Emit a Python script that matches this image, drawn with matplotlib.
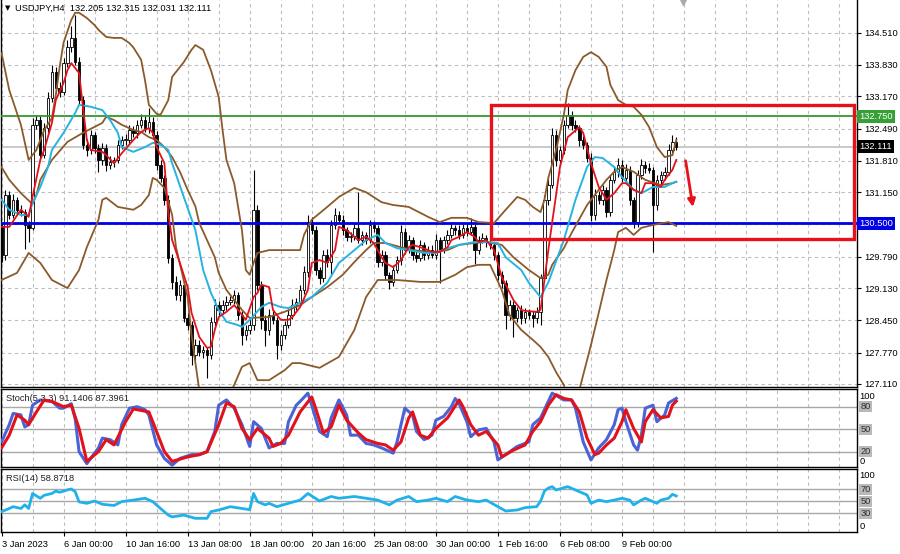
import matplotlib
matplotlib.use("Agg")
import matplotlib.pyplot as plt
from matplotlib.patches import Rectangle, FancyArrowPatch
import numpy as np

plt.rcParams['font.family'] = ['Liberation Sans', 'DejaVu Sans']

# ---------------- data ----------------
symbol_title = "USDJPY,H4"
last_bar_ohlc = ["132.205", "132.315", "132.031", "132.111"]

first_open = 130.42
closes = [
    129.83, 131.09, 130.67, 130.99, 130.78, 130.73, 130.46, 130.40, 132.57, 132.67,
    131.93, 132.50, 133.14, 133.68, 133.35, 133.26, 133.87, 134.21, 134.40, 133.89,
    133.09, 132.15, 132.04, 132.36, 132.08, 131.83, 132.08, 131.72, 131.79, 131.83,
    132.15, 132.25, 132.25, 132.46, 132.40, 132.57, 132.67, 132.50, 132.63, 132.36,
    131.72, 131.45, 130.99, 129.76, 129.26, 128.98, 129.20, 128.50, 128.35, 127.72,
    127.93, 127.78, 127.83, 127.72, 128.42, 128.77, 128.67, 128.77, 128.84, 128.88,
    128.98, 128.56, 128.14, 128.25, 128.35, 130.78, 129.20, 128.46, 128.25, 128.56,
    128.46, 127.93, 128.14, 128.35, 128.56, 128.77, 128.84, 129.09, 129.47, 130.52,
    130.35, 129.51, 129.34, 129.83, 129.68, 130.46, 130.67, 130.56, 130.35, 130.21,
    130.23, 130.40, 130.14, 130.25, 130.14, 130.46, 130.40, 129.68, 129.83, 129.41,
    129.26, 129.51, 129.72, 130.31, 129.93, 130.14, 129.83, 129.76, 130.04, 129.83,
    129.93, 129.83, 130.14, 129.93, 130.14, 130.25, 130.40, 130.35, 130.25, 130.40,
    130.31, 130.42, 129.93, 130.14, 130.19, 130.10, 130.04, 129.83, 129.41, 129.24,
    128.56, 128.77, 128.50, 128.67, 128.50, 128.63, 128.56, 128.50, 128.63, 129.34,
    130.99, 131.30, 132.36, 131.83, 132.04, 132.57, 132.78, 132.57, 132.50, 132.25,
    132.15, 131.87, 130.67, 131.09, 130.99, 131.20, 130.73, 131.41, 131.58, 131.72,
    131.45, 131.62, 130.99, 130.52, 131.51, 131.72, 131.66, 131.62, 130.88, 131.41,
    131.51, 131.58, 132.04, 132.205, 132.111]
upper_wicks = [
    0.05, 0.10, 0.08, 0.12, 0.06, 0.10, 0.06, 0.08, 0.15, 0.10,
    0.08, 0.10, 0.12, 0.15, 0.10, 0.12, 0.10, 0.15, 0.25, 0.48,
    0.10, 0.08, 0.12, 0.10, 0.06, 0.08, 0.10, 0.08, 0.12, 0.06,
    0.10, 0.08, 0.12, 0.10, 0.08, 0.10, 0.12, 0.08, 0.30, 0.10,
    0.08, 0.10, 0.06, 0.10, 0.08, 0.12, 0.10, 0.08, 0.10, 0.08,
    0.12, 0.10, 0.08, 0.06, 0.10, 0.12, 0.08, 0.10, 0.12, 0.08,
    0.10, 0.06, 0.08, 0.10, 0.12, 0.84, 0.10, 0.08, 0.10, 0.12,
    0.08, 0.06, 0.10, 0.08, 0.10, 0.12, 0.08, 0.10, 0.12, 0.15,
    0.10, 0.08, 0.06, 0.10, 0.12, 0.10, 0.15, 0.08, 0.10, 0.06,
    0.08, 0.10, 0.75, 0.08, 0.06, 0.10, 0.08, 0.06, 0.10, 0.08,
    0.06, 0.10, 0.08, 0.15, 0.08, 0.10, 0.06, 0.08, 0.10, 0.06,
    0.08, 0.10, 0.12, 0.06, 0.08, 0.10, 0.08, 0.06, 0.10, 0.08,
    0.10, 0.19, 0.06, 0.08, 0.10, 0.06, 0.08, 0.06, 0.05, 0.08,
    0.06, 0.10, 0.08, 0.06, 0.10, 0.08, 0.06, 0.08, 0.10, 0.08,
    0.10, 0.12, 0.14, 0.10, 0.08, 0.10, 0.25, 0.08, 0.10, 0.06,
    0.08, 0.06, 0.10, 0.12, 0.08, 0.10, 0.06, 0.10, 0.12, 0.15,
    0.10, 0.12, 0.08, 0.06, 0.10, 0.12, 0.08, 0.10, 0.06, 0.10,
    0.08, 0.10, 0.12, 0.15, 0.105]
lower_wicks = [
    0.15, 0.10, 0.08, 0.06, 0.10, 0.08, 0.50, 0.30, 0.05, 0.08,
    0.10, 0.06, 0.08, 0.10, 0.12, 0.10, 0.06, 0.08, 0.10, 0.06,
    0.08, 0.10, 0.12, 0.08, 0.10, 0.25, 0.10, 0.12, 0.08, 0.10,
    0.06, 0.08, 0.10, 0.06, 0.08, 0.10, 0.06, 0.08, 0.10, 0.08,
    0.10, 0.08, 0.12, 0.10, 0.15, 0.10, 0.12, 0.08, 0.10, 0.20,
    0.10, 0.08, 0.12, 0.48, 0.08, 0.10, 0.12, 0.08, 0.10, 0.06,
    0.08, 0.10, 0.20, 0.10, 0.08, 0.10, 0.12, 0.20, 0.35, 0.10,
    0.08, 0.30, 0.10, 0.08, 0.06, 0.08, 0.10, 0.06, 0.08, 0.10,
    0.08, 0.10, 0.12, 0.08, 0.10, 0.30, 0.08, 0.06, 0.10, 0.08,
    0.10, 0.08, 0.06, 0.10, 0.08, 0.06, 0.08, 0.10, 0.08, 0.12,
    0.15, 0.08, 0.06, 0.10, 0.08, 0.06, 0.10, 0.08, 0.06, 0.10,
    0.08, 0.06, 0.08, 0.69, 0.06, 0.08, 0.06, 0.10, 0.08, 0.06,
    0.08, 0.06, 0.30, 0.08, 0.06, 0.10, 0.08, 0.10, 0.12, 0.10,
    0.30, 0.10, 0.40, 0.08, 0.12, 0.10, 0.08, 0.20, 0.10, 0.28,
    0.08, 0.10, 0.06, 0.12, 0.10, 0.08, 0.06, 0.10, 0.08, 0.12,
    0.10, 0.08, 0.12, 0.10, 0.08, 0.12, 0.10, 0.08, 0.06, 0.10,
    0.08, 0.10, 0.12, 0.12, 0.10, 0.08, 0.10, 0.06, 1.00, 0.10,
    0.08, 0.10, 0.06, 0.10, 0.08]

# Bollinger band lines (bar index, price)
bb_upper_bars = [0, 2, 5, 7, 9, 11, 13, 14, 15, 16, 18, 19, 20, 22, 24, 25, 27, 29, 31, 33,
                 34, 36, 37, 38, 40, 41, 43, 44, 47, 49, 50, 52, 54, 56, 57, 58, 60, 62, 63, 64,
                 65, 66, 69, 73, 77, 78, 80, 84, 87, 91, 94, 98, 101, 105, 110, 113, 116, 120, 123, 127,
                 130, 133, 135, 137, 139, 140, 141, 143, 145, 146, 148, 150, 152, 154, 156, 157, 159, 161, 163, 165,
                 167, 169, 171, 173, 174]
bb_upper = [134.08, 133.30, 132.57, 131.83, 132.04, 132.46, 132.71, 133.20, 133.79, 134.30,
            134.78, 134.93, 134.93, 134.82, 134.67, 134.57, 134.42, 134.40, 134.40, 134.29,
            134.20, 133.94, 133.51, 132.99, 132.80, 132.78, 133.09, 133.58, 133.89, 134.15,
            134.25, 134.15, 133.72, 133.16, 132.46, 131.83, 131.34, 130.35, 129.51, 129.41,
            129.66, 129.87, 129.93, 129.93, 129.93, 130.25, 130.57, 130.84, 131.05, 131.24,
            131.15, 130.94, 130.88, 130.84, 130.63, 130.52, 130.61, 130.61, 130.52, 130.50,
            130.78, 131.05, 130.99, 130.84, 130.73, 130.99, 131.45, 132.04, 132.78, 133.30,
            133.72, 134.00, 134.10, 134.00, 133.79, 133.41, 133.09, 132.99, 132.95, 132.78,
            132.52, 132.10, 131.89, 131.93, 132.25]
bb_mid_bars = [0, 2, 5, 8, 9, 10, 13, 17, 21, 26, 27, 29, 31, 34, 36, 38, 40, 42, 44, 46,
               48, 50, 51, 53, 55, 56, 58, 60, 62, 64, 69, 73, 77, 80, 84, 88, 91, 94, 96, 99,
               103, 106, 111, 115, 118, 122, 125, 129, 132, 136, 139, 141, 142, 145, 147, 151, 154, 156, 158, 160,
               163, 166, 170, 173, 174]
bb_mid = [131.68, 131.41, 131.13, 130.90, 131.09, 131.41, 131.83, 132.21, 132.40, 132.61,
          132.74, 132.67, 132.57, 132.46, 132.42, 132.31, 132.25, 132.10, 131.89, 131.58,
          131.20, 130.85, 130.50, 130.14, 129.78, 129.45, 129.09, 128.88, 128.67, 128.50,
          128.52, 128.63, 128.77, 128.94, 129.15, 129.41, 129.68, 129.93, 130.08, 130.08,
          129.99, 129.93, 129.89, 129.93, 130.04, 130.08, 130.10, 130.04, 129.78, 129.51,
          129.34, 129.41, 129.62, 129.97, 130.29, 130.88, 131.20, 131.41, 131.58, 131.68,
          131.58, 131.41, 131.30, 131.34, 131.37]
bb_lower_bars = [0, 4, 7, 10, 13, 17, 20, 22, 25, 26, 27, 30, 34, 36, 38, 39, 40, 42, 44, 45,
                 48, 49, 50, 51, 53, 55, 58, 60, 62, 64, 66, 69, 73, 75, 77, 82, 87, 91, 94, 97,
                 102, 108, 113, 117, 120, 123, 126, 129, 131, 134, 137, 139, 141, 143, 145, 146, 148, 149, 150, 152,
                 154, 156, 158, 159, 161, 163, 165, 168, 172, 174]
bb_lower = [129.30, 129.45, 129.87, 129.66, 129.30, 129.13, 129.51, 129.99, 130.57, 130.99,
            131.03, 130.84, 130.78, 130.88, 131.09, 131.45, 131.41, 131.24, 130.67, 129.99,
            128.94, 128.14, 127.55, 126.98, 126.67, 126.56, 126.77, 127.09, 127.47, 127.55,
            127.19, 127.19, 127.40, 127.55, 127.55, 127.45, 127.68, 128.25, 128.94, 129.30,
            129.30, 129.26, 129.26, 129.41, 129.57, 129.62, 129.62, 129.09, 128.56, 128.25,
            128.04, 127.89, 127.68, 127.36, 127.09, 126.77, 126.67, 126.98, 127.30, 127.93,
            128.61, 129.30, 129.93, 130.31, 130.40, 130.25, 130.40, 130.46, 130.52, 130.44]

# moving averages (bar index, price)
ma_fast_bars = [0, 2, 5, 6, 7, 8, 10, 11, 13, 14, 16, 17, 18, 20, 21, 22, 23, 26, 27, 29,
                31, 34, 36, 38, 39, 40, 42, 43, 44, 46, 48, 49, 51, 53, 54, 55, 56, 58, 60, 61,
                63, 65, 66, 67, 69, 70, 72, 74, 75, 77, 79, 80, 82, 84, 86, 87, 89, 91, 92, 94,
                96, 98, 99, 101, 103, 105, 106, 108, 110, 111, 113, 115, 116, 118, 120, 122, 123, 125, 127, 129,
                132, 134, 135, 138, 139, 140, 141, 142, 143, 144, 146, 149, 150, 152, 154, 156, 158, 160, 161, 163,
                165, 166, 168, 170, 171, 173, 174]
ma_fast = [130.42, 130.42, 130.78, 130.71, 130.63, 131.05, 131.83, 132.04, 132.61, 133.09,
           133.45, 133.72, 133.87, 133.66, 132.95, 132.25, 132.04, 132.00, 131.93, 131.76,
           131.97, 132.25, 132.42, 132.50, 132.40, 132.10, 131.76, 130.71, 130.14, 129.66,
           129.15, 128.61, 128.10, 127.87, 127.89, 128.25, 128.52, 128.63, 128.77, 128.67,
           128.46, 128.94, 129.03, 129.20, 129.15, 128.67, 128.46, 128.46, 128.52, 128.73,
           129.09, 129.66, 129.72, 129.66, 129.93, 130.42, 130.35, 130.21, 130.14, 130.21,
           130.08, 129.78, 129.66, 129.57, 129.72, 129.99, 130.04, 129.99, 129.93, 129.89,
           129.89, 129.99, 130.14, 130.21, 130.31, 130.21, 130.10, 130.14, 129.93, 129.36,
           128.88, 128.67, 128.65, 128.63, 128.67, 129.30, 129.93, 130.52, 131.09, 131.68,
           132.31, 132.52, 132.40, 131.76, 131.26, 130.99, 131.13, 131.34, 131.34, 131.20,
           131.13, 131.34, 131.34, 131.26, 131.41, 131.62, 131.83]
ma_slow_bars = [0, 2, 5, 7, 8, 10, 12, 13, 16, 19, 20, 23, 26, 28, 30, 31, 34, 37, 39, 41,
                43, 44, 47, 50, 52, 54, 56, 58, 61, 62, 64, 67, 69, 72, 74, 77, 80, 84, 87, 91,
                94, 97, 99, 102, 105, 109, 112, 115, 118, 122, 125, 128, 130, 134, 136, 139, 141, 145, 148, 151,
                153, 155, 158, 160, 163, 165, 168, 171, 173, 174]
ma_slow = [130.99, 130.78, 130.67, 130.67, 130.92, 131.26, 131.68, 132.04, 132.40, 132.82,
           132.99, 132.95, 132.88, 132.67, 132.40, 132.10, 132.00, 132.10, 132.19, 132.15,
           132.04, 131.76, 131.05, 130.35, 129.51, 129.03, 128.67, 128.42, 128.35, 128.31,
           128.46, 128.73, 128.82, 128.73, 128.71, 128.82, 128.94, 129.24, 129.66, 129.93,
           130.14, 130.25, 130.08, 129.97, 129.93, 129.87, 129.87, 129.97, 130.04, 130.10,
           130.10, 130.08, 129.78, 129.51, 129.24, 128.94, 129.25, 130.14, 130.99, 131.68,
           131.89, 131.87, 131.68, 131.47, 131.20, 131.13, 131.26, 131.26, 131.34, 131.37]

# Stochastic (5,3,3)
stoch_k_bars = [0, 2, 3, 5, 6, 7, 8, 10, 13, 15, 16, 18, 19, 20, 22, 23, 25, 26, 28, 30,
                31, 33, 35, 37, 38, 40, 42, 44, 46, 49, 51, 53, 55, 56, 58, 60, 62, 64, 65, 67,
                69, 71, 73, 74, 76, 77, 79, 80, 82, 84, 85, 87, 89, 90, 92, 94, 96, 98, 101, 102,
                104, 106, 107, 109, 111, 112, 114, 116, 117, 118, 120, 121, 123, 125, 127, 128, 130, 133, 136, 137,
                139, 141, 142, 145, 147, 148, 150, 152, 154, 156, 158, 159, 160, 161, 163, 164, 165, 166, 168, 169,
                171, 172, 174]
stoch_k = [33, 56, 71, 69, 53, 56, 82, 89, 87, 78, 78, 84, 64, 20, 4, 11, 25, 38, 36, 29,
           56, 78, 80, 76, 69, 29, 11, 2, 11, 16, 16, 20, 47, 82, 89, 78, 56, 27, 60, 51,
           25, 31, 31, 60, 82, 87, 98, 82, 47, 40, 65, 89, 69, 42, 42, 31, 29, 25, 18, 33,
           78, 69, 47, 36, 42, 62, 67, 80, 91, 84, 60, 40, 49, 51, 33, 9, 16, 27, 33, 56,
           65, 87, 98, 89, 89, 78, 33, 9, 25, 36, 56, 76, 78, 60, 29, 22, 42, 78, 82, 60,
           69, 85, 91.14]
stoch_d_bars = [0, 2, 4, 6, 7, 9, 11, 13, 16, 18, 20, 22, 25, 27, 29, 32, 34, 38, 39, 42,
                44, 48, 51, 53, 56, 58, 60, 62, 64, 66, 69, 70, 72, 74, 77, 80, 81, 83, 85, 87,
                89, 92, 94, 97, 99, 101, 103, 105, 106, 108, 110, 112, 115, 118, 119, 121, 123, 125, 128, 129,
                132, 135, 137, 139, 141, 143, 145, 147, 149, 151, 153, 154, 156, 158, 160, 161, 163, 165, 166, 168,
                170, 172, 173, 174]
stoch_d = [25, 42, 69, 62, 56, 73, 89, 87, 80, 82, 51, 7, 20, 36, 29, 60, 77, 73, 60, 20,
           7, 13, 16, 20, 56, 85, 80, 51, 36, 51, 38, 27, 31, 42, 73, 93, 78, 45, 53, 82,
           62, 45, 36, 31, 29, 22, 33, 65, 73, 42, 38, 51, 65, 89, 80, 56, 42, 47, 29, 13,
           22, 29, 47, 60, 82, 96, 91, 89, 73, 38, 16, 18, 29, 38, 60, 76, 51, 33, 60, 76,
           65, 67, 82, 87.40]

# RSI(14)
rsi_bars = [0, 2, 3, 5, 6, 7, 8, 10, 11, 13, 14, 15, 17, 18, 19, 20, 22, 24, 26, 29,
            31, 34, 37, 39, 41, 43, 44, 47, 50, 53, 54, 56, 59, 62, 64, 65, 66, 68, 69, 71,
            74, 77, 79, 82, 85, 87, 91, 94, 97, 100, 102, 105, 107, 110, 112, 115, 117, 120, 123, 125,
            128, 130, 133, 135, 138, 139, 140, 141, 142, 143, 146, 148, 151, 152, 154, 156, 158, 160, 162, 163,
            165, 166, 169, 170, 172, 173, 174]
rsi = [32.7, 38, 41, 38, 44, 38, 63, 55, 60, 63, 67, 65, 69, 70.5, 66, 49, 46.6, 50.5, 45, 43,
       49.4, 52, 55, 49.4, 38, 27, 24, 27, 21.6, 21.6, 32.7, 35.5, 41, 38, 36, 63, 49.4, 44, 46.6, 41,
       46.6, 52, 63, 50.5, 58, 55, 58, 55, 52, 44, 52, 58, 49.4, 52, 55, 49.4, 58, 52, 49.4, 52,
       41, 33.8, 35.5, 39.4, 41, 50, 67, 72, 74.4, 68.8, 74.4, 68.8, 60.5, 46.6, 52, 49.4, 52, 55, 52, 44,
       52, 55, 46.6, 52, 55, 61.6, 58.87]

x_label_bars = [0, 16, 32, 48, 64, 80, 96, 112, 128, 144, 160]
x_labels = ["3 Jan 2023", "6 Jan 00:00", "10 Jan 16:00", "13 Jan 08:00", "18 Jan 00:00",
            "20 Jan 16:00", "25 Jan 08:00", "30 Jan 00:00", "1 Feb 16:00", "6 Feb 08:00", "9 Feb 00:00"]
price_ticks = [134.51, 133.83, 133.17, 132.49, 131.81, 131.15, 130.47, 129.79,
               129.13, 128.45, 127.77, 127.11]
hidden_tick_labels = [130.47]   # covered by the 130.500 level label in the reference

resistance_level = 132.75
support_level = 130.50
bid_price = 132.111
box_bars = (126.3, 219.8)
box_prices = (130.17, 132.99)
arrow_start = (176.3, 131.87)
arrow_end = (178.4, 130.78)
shift_marker_bar = 175.8

stoch_values_text = "Stoch(5,3,3) 91.1406 87.3961"
rsi_values_text = "RSI(14) 58.8718"
stoch_levels = [80, 50, 20]
rsi_levels = [70, 50, 30]

# ---------------- styles ----------------
FS = 6.7
GRID = dict(color='#bdbdbd', lw=0.8, ls=(0, (3, 3)), zorder=0.5)
BROWN = '#8b5a2b'
RED = '#e2121b'
CYAN = '#27b3e2'
X_MIN, X_MAX = -0.26, 220.6

fig = plt.figure(figsize=(9, 5.54), dpi=100)
W, H = 900.0, 554.0
ax = fig.add_axes([0.5 / W, (H - 387) / H, 856.5 / W, 387 / H])
ax_st = fig.add_axes([0.5 / W, (H - 466.5) / H, 856.5 / W, 77.2 / H])
ax_rsi = fig.add_axes([0.5 / W, (H - 531.7) / H, 856.5 / W, 62.4 / H])

for a in (ax, ax_st, ax_rsi):
    a.set_xlim(X_MIN, X_MAX)
    for b in range(0, 221, 8):
        a.axvline(b, **GRID)
    for s in a.spines.values():
        s.set_color('black')
        s.set_linewidth(1.0)
    a.set_xticks([])

# ---------------- main price panel ----------------
ax.set_ylim(127.046, 135.199)
ax.spines['top'].set_visible(False)
for p in price_ticks:
    ax.axhline(p, **GRID)

opens = [first_open] + closes[:-1]
bars = np.arange(len(closes))
o = np.array(opens)
c = np.array(closes)
hi = np.maximum(o, c) + np.array(upper_wicks)
lo = np.minimum(o, c) - np.array(lower_wicks)
ax.vlines(bars, lo, hi, color='black', lw=0.8, zorder=2)
bull = c >= o
body = np.maximum(np.abs(c - o), 0.012)
ax.bar(bars[bull], body[bull], bottom=o[bull], width=0.62, facecolor='white',
       edgecolor='black', lw=0.6, zorder=2.1)
ax.bar(bars[~bull], body[~bull], bottom=c[~bull], width=0.62, facecolor='black',
       edgecolor='black', lw=0.6, zorder=2.1)

ax.axhline(bid_price, color='#c9c9c9', lw=1.4, zorder=1)
ax.axhline(resistance_level, color='#2f9a2f', lw=1.3, zorder=3)
ax.axhline(support_level, color='#0000e6', lw=2.0, zorder=3)

for xs, ys in ((bb_upper_bars, bb_upper), (bb_mid_bars, bb_mid), (bb_lower_bars, bb_lower)):
    ax.plot(xs, ys, color=BROWN, lw=1.3, zorder=3, solid_joinstyle='round')
ax.plot(ma_slow_bars, ma_slow, color=CYAN, lw=1.4, zorder=3.2, solid_joinstyle='round')
ax.plot(ma_fast_bars, ma_fast, color=RED, lw=1.3, zorder=3.3, solid_joinstyle='round')

ax.add_patch(Rectangle((box_bars[0], box_prices[0]), box_bars[1] - box_bars[0],
                       box_prices[1] - box_prices[0], fill=False, edgecolor='#e8101a',
                       lw=2.4, zorder=4, joinstyle='miter'))
ax.add_patch(FancyArrowPatch(arrow_start, arrow_end, arrowstyle='-|>', mutation_scale=11,
                             color='#e8101a', lw=2.0, zorder=4))
ax.plot([shift_marker_bar], [135.17], marker='v', ms=5.5, color='#a9a9a9', zorder=5, clip_on=False)

ax.yaxis.tick_right()
ax.set_yticks(price_ticks)
ax.set_yticklabels(["" if p in hidden_tick_labels else f"{p:.3f}" for p in price_ticks])
ax.tick_params(axis='y', right=True, left=False, length=3, width=0.8, pad=2,
               labelsize=FS, colors='black')

yt = ax.get_yaxis_transform()
for val, fc in ((resistance_level, '#36a036'), (bid_price, 'black'), (support_level, '#0000e6')):
    ax.text(1.0022, val, f"{val:.3f}", transform=yt, ha='left', va='center', fontsize=FS,
            color='white', zorder=6, clip_on=False,
            bbox=dict(boxstyle='square,pad=0.22', fc=fc, ec='none'))

fig.text(4.5 / W, 1 - 8.5 / H, "\u25bc", fontsize=5, family='DejaVu Sans', va='center', ha='left')
fig.text(15 / W, 1 - 8 / H, f"{symbol_title}  " + " ".join(last_bar_ohlc),
         fontsize=FS, va='center', ha='left')

# ---------------- stochastic ----------------
ax_st.set_ylim(0.2, 103.2)
ax_st.set_yticks([])
for lv in stoch_levels:
    ax_st.axhline(lv, color='#a8a8a8', lw=1.0, zorder=1)
ax_st.plot(stoch_k_bars, stoch_k, color='#4a63d6', lw=2.2, zorder=3, solid_joinstyle='round')
ax_st.plot(stoch_d_bars, stoch_d, color=RED, lw=2.2, zorder=3.1, solid_joinstyle='round')
ax_st.text(5 / 856.5, 0.885, stoch_values_text, transform=ax_st.transAxes, fontsize=FS,
           va='center', ha='left', color='#202020')
st = ax_st.get_yaxis_transform()
ax_st.text(1.0025, 100, "100", transform=st, fontsize=FS, va='top', ha='left', clip_on=False)
ax_st.text(1.0025, 0.2, "0", transform=st, fontsize=FS, va='bottom', ha='left', clip_on=False)
for lv in stoch_levels:
    ax_st.text(1.004, lv, f"{lv}", transform=st, fontsize=FS, va='center', ha='left',
               color='#303030', clip_on=False,
               bbox=dict(boxstyle='square,pad=0.12', fc='#b9b9b9', ec='none'))

# ---------------- RSI ----------------
ax_rsi.set_ylim(-0.7, 103.3)
ax_rsi.set_yticks([])
for lv in rsi_levels:
    ax_rsi.axhline(lv, color='#a8a8a8', lw=1.0, zorder=1)
ax_rsi.plot(rsi_bars, rsi, color='#1fb2ea', lw=2.0, zorder=3, solid_joinstyle='round')
ax_rsi.text(5 / 856.5, 0.86, rsi_values_text, transform=ax_rsi.transAxes, fontsize=FS,
            va='center', ha='left', color='#202020')
rt = ax_rsi.get_yaxis_transform()
ax_rsi.text(1.0025, 101, "100", transform=rt, fontsize=FS, va='top', ha='left', clip_on=False)
ax_rsi.text(1.0025, 0.5, "0", transform=rt, fontsize=FS, va='bottom', ha='left', clip_on=False)
for lv in rsi_levels:
    ax_rsi.text(1.004, lv, f"{lv}", transform=rt, fontsize=FS, va='center', ha='left',
                color='#303030', clip_on=False,
                bbox=dict(boxstyle='square,pad=0.12', fc='#b9b9b9', ec='none'))

ax_rsi.set_xticks(x_label_bars)
ax_rsi.set_xticklabels(x_labels, ha='left', fontsize=FS)
ax_rsi.tick_params(axis='x', length=3, width=0.8, pad=3, colors='black')

fig.savefig("out.png", dpi=100, facecolor='white')
